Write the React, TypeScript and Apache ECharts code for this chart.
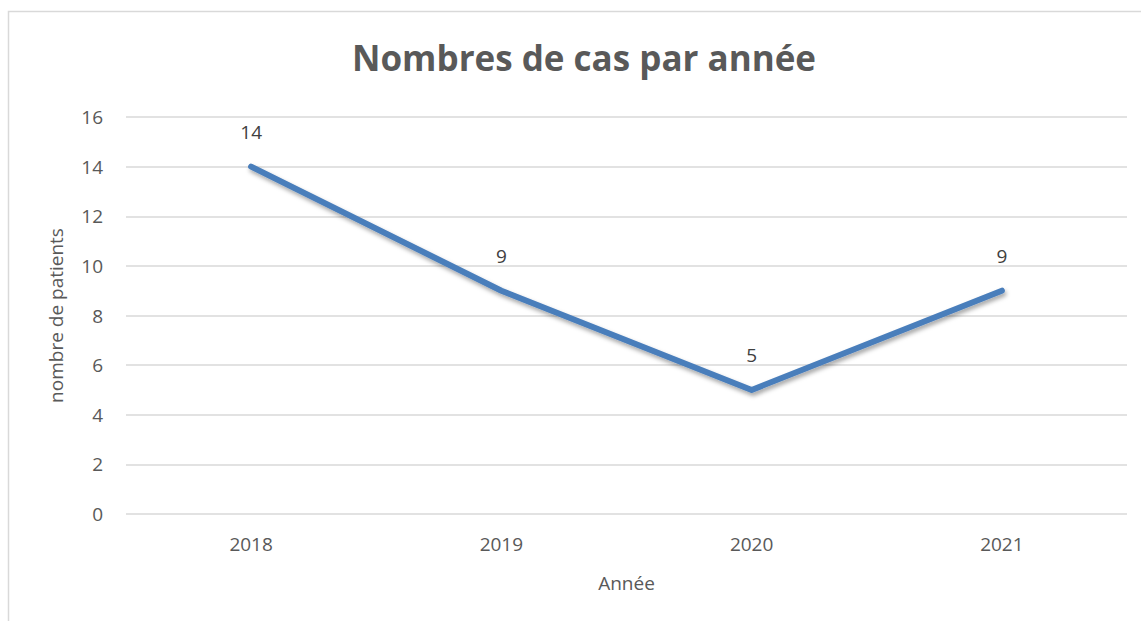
import React, { useEffect, useRef } from "react";
import * as echarts from "echarts";

const years = ["2018", "2019", "2020", "2021"];
const patients = [14, 9, 5, 9];
const yMin = 0;
const yMax = 16;
const yStep = 2;

export default function App() {
  const ref = useRef<HTMLDivElement>(null);
  useEffect(() => {
    document.body.style.margin = "0";
    const chart = echarts.init(ref.current!, null, { renderer: "svg" });
    const font = "'Open Sans', 'Noto Sans', sans-serif";
    chart.setOption({
      animation: false,
      backgroundColor: "#ffffff",
      textStyle: { fontFamily: font },
      title: {
        text: "Nombres de cas par année",
        left: 347,
        top: 35,
        textStyle: { fontFamily: font, fontSize: 35, fontWeight: "bold", color: "#595959" },
      },
      graphic: [
        {
          type: "rect",
          shape: { x: 8.5, y: 11.5, width: 1300, height: 800 },
          style: { fill: "none", stroke: "#d9d9d9", lineWidth: 1.5 },
          silent: true,
          z: -1,
        },
      ],
      grid: { left: 126, right: 14, top: 117, bottom: 107, containLabel: false },
      xAxis: {
        type: "category",
        data: years,
        boundaryGap: true,
        name: "Année",
        nameLocation: "middle",
        nameGap: 59,
        nameTextStyle: { fontFamily: font, fontSize: 19, color: "#595959" },
        axisLine: { show: false },
        axisTick: { show: false },
        axisLabel: { fontFamily: font, fontSize: 19, color: "#595959", margin: 20 },
      },
      yAxis: {
        type: "value",
        min: yMin,
        max: yMax,
        interval: yStep,
        name: "nombre de patients",
        nameLocation: "middle",
        nameGap: 61,
        nameTextStyle: { fontFamily: font, fontSize: 19, color: "#595959" },
        axisLine: { show: false },
        axisTick: { show: false },
        axisLabel: { fontFamily: font, fontSize: 19, color: "#595959", margin: 23 },
        splitLine: { lineStyle: { color: "#d9d9d9", width: 1.5 } },
      },
      series: [
        {
          type: "line",
          data: patients,
          symbol: "circle",
          symbolSize: 2,
          showSymbol: true,
          itemStyle: { color: "rgba(74,126,187,0)", borderWidth: 0 },
          lineStyle: {
            color: "#4a7ebb",
            width: 6,
            cap: "round",
            join: "round",
            shadowColor: "rgba(0,0,0,0.35)",
            shadowBlur: 4,
            shadowOffsetX: 1.5,
            shadowOffsetY: 3,
          },
          label: {
            show: true,
            position: "top",
            distance: 24,
            fontFamily: font,
            fontSize: 19,
            color: "#404040",
          },
        },
      ],
    });
    return () => chart.dispose();
  }, []);
  return <div ref={ref} style={{ width: 1141, height: 621 }} />;
}
